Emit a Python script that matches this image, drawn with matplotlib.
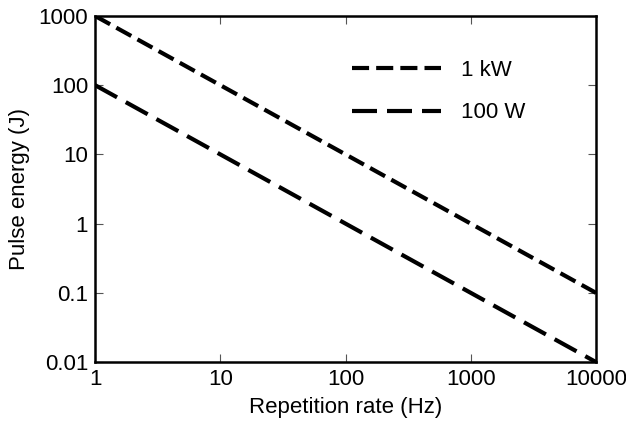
import matplotlib.pyplot as plt

# 데이터
rate = [1, 10, 100, 1000, 10000]
energy_1kw = [1000, 100, 10, 1, 0.1]
energy_100w = [100, 10, 1, 0.1, 0.01]
xticks = [1, 10, 100, 1000, 10000]
yticks = [0.01, 0.1, 1, 10, 100, 1000]
ytick_labels = ['0.01', '0.1', '1', '10', '100', '1000']

plt.rcParams['font.family'] = ['Liberation Sans', 'DejaVu Sans']

fig = plt.figure(figsize=(6.26, 4.21), dpi=100)
ax = fig.add_axes([0.152, 0.140, 0.800, 0.822])

lw = 3.0
ax.plot(rate, energy_1kw, color='black', lw=lw, dashes=(4.1, 1.7), label='1 kW')
ax.plot(rate, energy_100w, color='black', lw=lw, dashes=(6.0, 2.4), label='100 W')

ax.set_xscale('log')
ax.set_yscale('log')
ax.set_xlim(1, 10000)
ax.set_ylim(0.01, 1000)
ax.set_xticks(xticks)
ax.set_xticklabels([str(v) for v in xticks])
ax.set_yticks(yticks)
ax.set_yticklabels(ytick_labels)
ax.minorticks_off()
ax.tick_params(direction='in', length=6, width=0.8, color='#555555', labelsize=16,
               top=True, right=True, pad=5)

for s in ax.spines.values():
    s.set_linewidth(1.8)

ax.set_xlabel('Repetition rate (Hz)', fontsize=16, labelpad=5)
ax.set_ylabel('Pulse energy (J)', fontsize=16, labelpad=6)

ax.legend(loc='upper left', bbox_to_anchor=(0.513, 0.874), frameon=False, fontsize=16,
          handlelength=4.0, labelspacing=0.98, handletextpad=0.9,
          borderpad=0, borderaxespad=0)

fig.savefig('out.png')
